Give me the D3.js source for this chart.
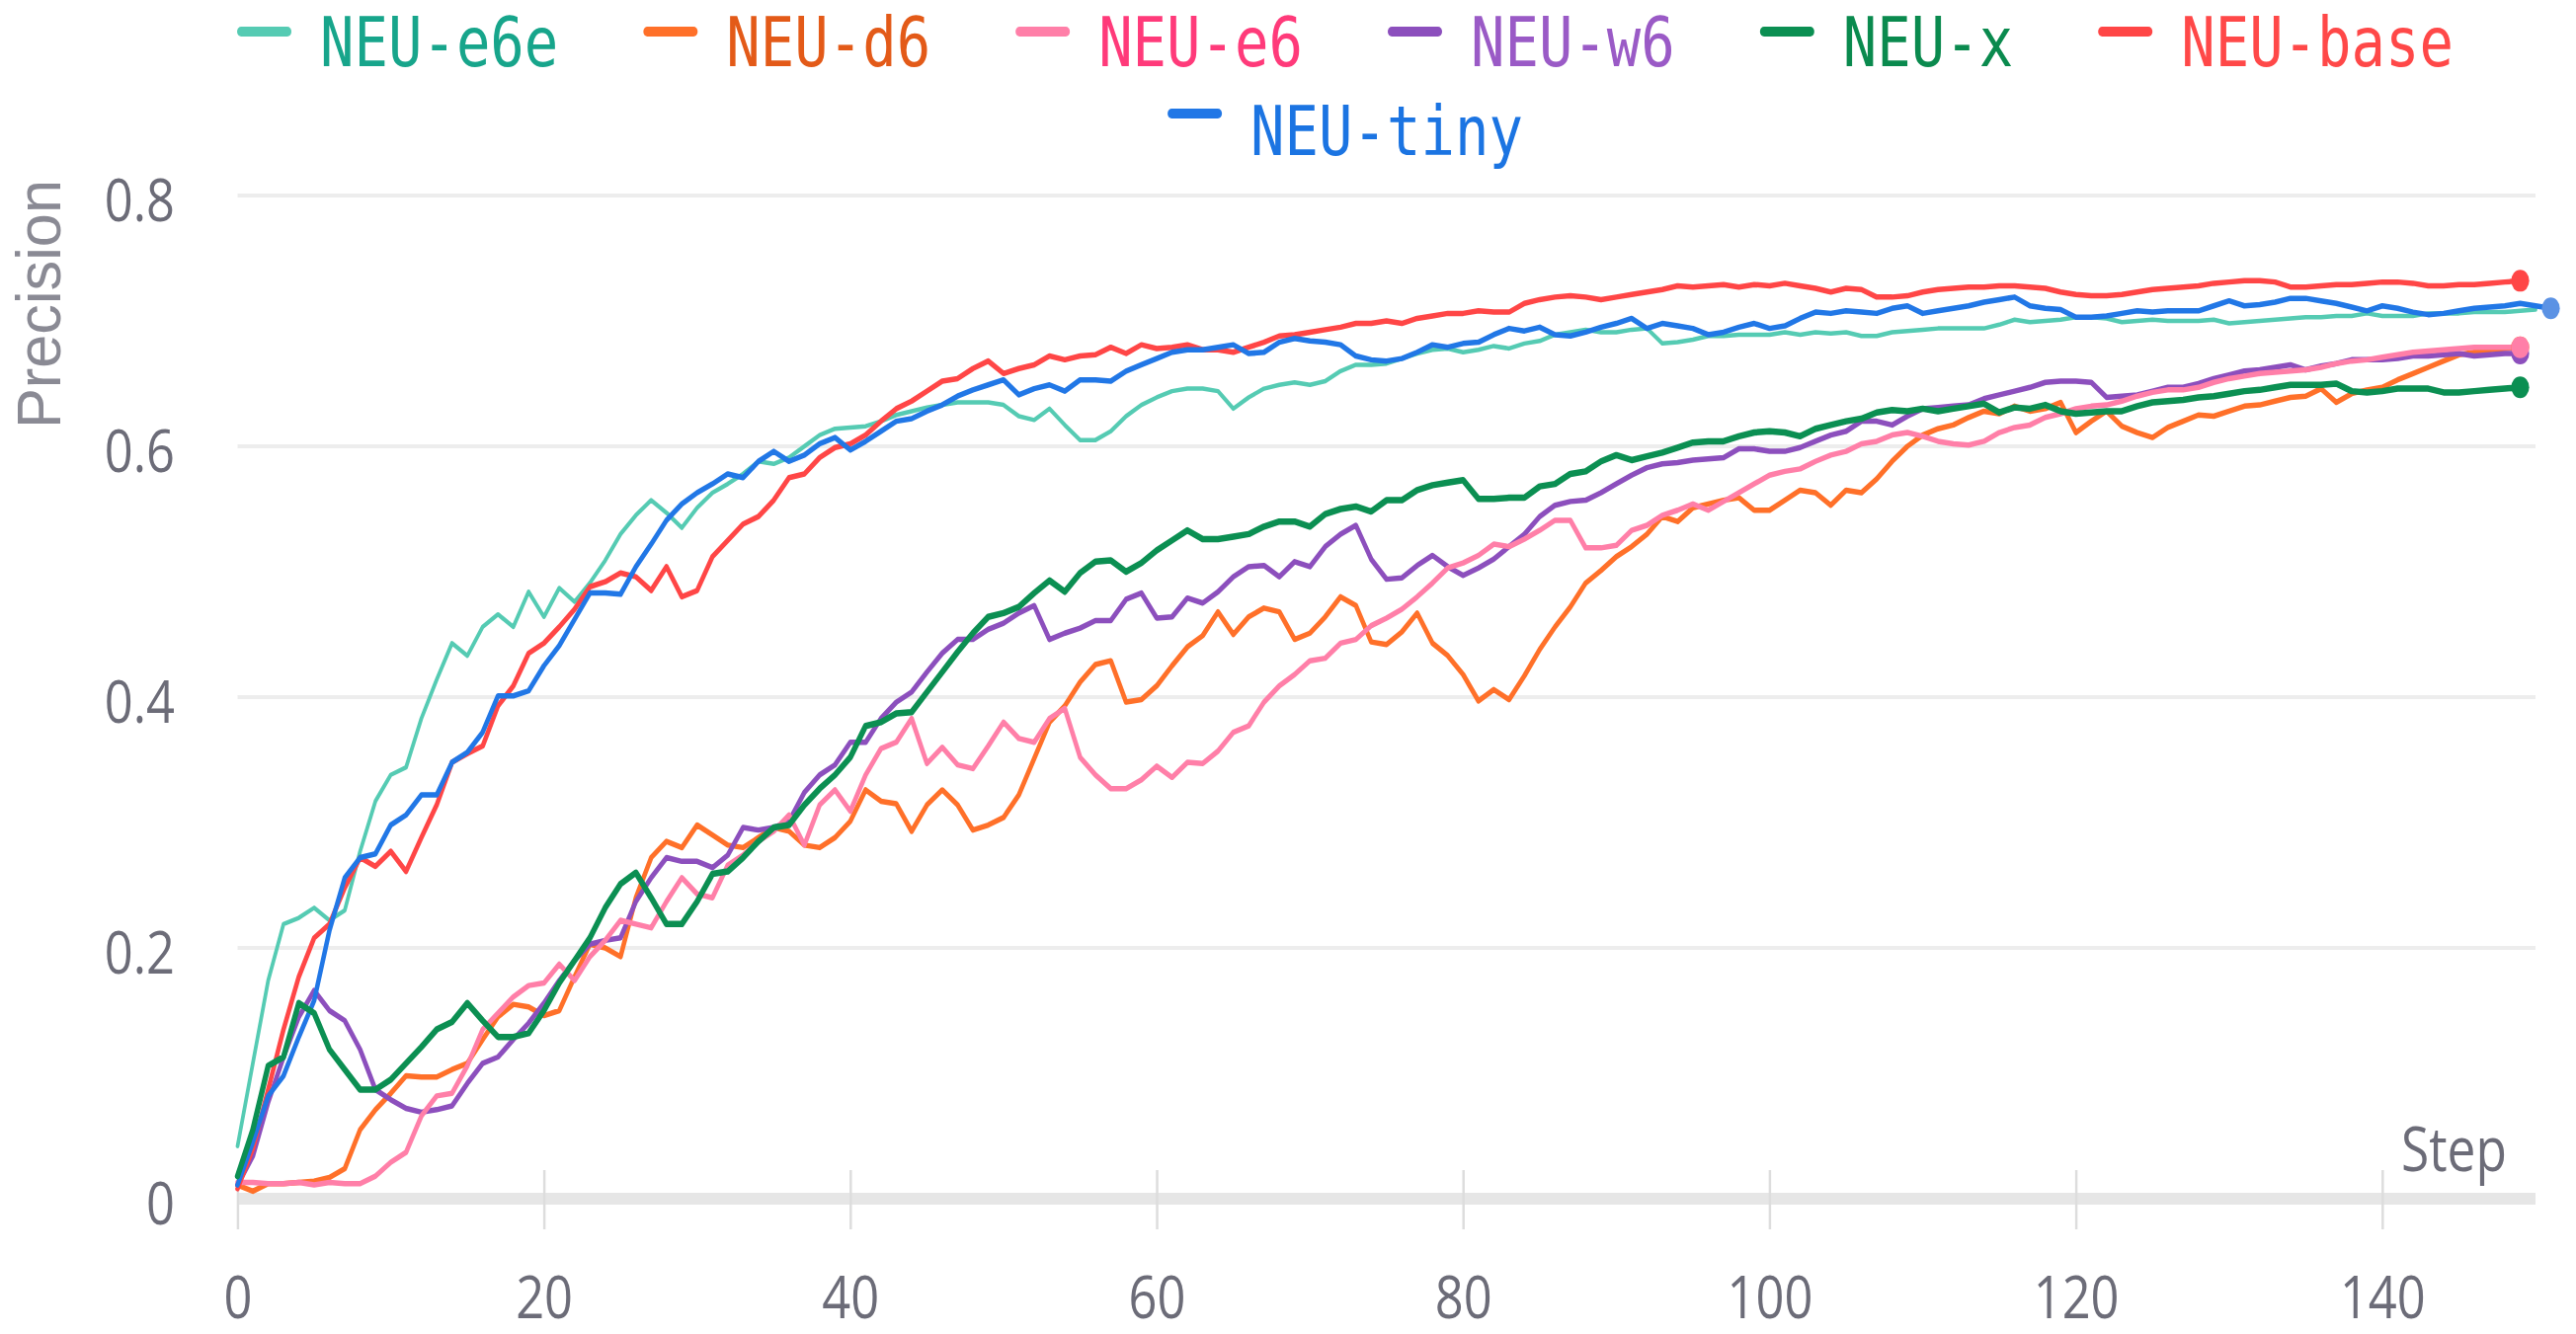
<!DOCTYPE html>
<html><head><meta charset="utf-8">
<script src="https://cdn.jsdelivr.net/npm/d3@7"></script>
<style>html,body{margin:0;padding:0;background:#fff;} svg{display:block;background:#fff;}</style>
</head><body>
<svg id="chart" width="2608" height="1351"></svg>
<script>
// ---------- data ----------
const seriesNames = ["NEU-e6e","NEU-d6","NEU-e6","NEU-w6","NEU-x","NEU-base","NEU-tiny"];
const lineColors  = ["#55cbb3","#ff7029","#ff7fa8","#8c4fbd","#0b8f52","#ff4646","#2177e6"];
const textColors  = ["#17a58b","#e35a18","#ff3a7a","#9a5ac6","#0a8a4e","#ff4848","#1b74e2"];
const xTicks = [0,20,40,60,80,100,120,140];
const yTicks = [0,0.2,0.4,0.6,0.8];
const xDomain = [0,150];
const yDomain = [0,0.8];

const e6eValues = [0.042,0.108,0.174,0.219,0.224,0.232,0.222,0.230,0.277,0.317,
0.338,0.344,0.383,0.414,0.443,0.433,0.456,0.466,0.456,0.484,
0.464,0.487,0.476,0.491,0.509,0.530,0.545,0.557,0.547,0.535,
0.551,0.563,0.570,0.578,0.588,0.586,0.591,0.600,0.609,0.614,
0.615,0.616,0.620,0.625,0.628,0.631,0.633,0.635,0.635,0.635,
0.633,0.624,0.621,0.630,0.617,0.605,0.605,0.612,0.624,0.633,
0.639,0.644,0.646,0.646,0.644,0.630,0.639,0.646,0.649,0.651,
0.649,0.652,0.660,0.665,0.665,0.666,0.670,0.674,0.677,0.678,
0.675,0.677,0.680,0.678,0.682,0.684,0.689,0.691,0.693,0.691,
0.691,0.693,0.694,0.682,0.683,0.685,0.688,0.688,0.689,0.689,
0.689,0.691,0.689,0.691,0.690,0.691,0.688,0.688,0.691,0.692,
0.693,0.694,0.694,0.694,0.694,0.697,0.701,0.699,0.700,0.701,
0.703,0.703,0.702,0.699,0.700,0.701,0.700,0.700,0.700,0.701,
0.698,0.699,0.700,0.701,0.702,0.703,0.703,0.704,0.704,0.706,
0.704,0.704,0.704,0.706,0.706,0.706,0.707,0.707,0.707,0.708,
0.709];

const d6Values = [0.011,0.006,0.012,0.012,0.013,0.014,0.017,0.024,0.055,0.071,
0.084,0.098,0.097,0.097,0.103,0.108,0.127,0.145,0.155,0.153,
0.146,0.150,0.177,0.203,0.200,0.193,0.240,0.272,0.285,0.280,
0.298,0.290,0.282,0.280,0.288,0.296,0.293,0.282,0.280,0.288,
0.301,0.326,0.317,0.315,0.293,0.314,0.326,0.314,0.294,0.298,
0.304,0.322,0.351,0.380,0.393,0.412,0.426,0.429,0.396,0.398,
0.409,0.425,0.440,0.449,0.468,0.450,0.464,0.471,0.468,0.446,
0.451,0.464,0.480,0.473,0.444,0.442,0.452,0.467,0.443,0.433,
0.418,0.397,0.406,0.398,0.417,0.438,0.456,0.472,0.491,0.501,
0.512,0.520,0.530,0.544,0.540,0.551,0.554,0.557,0.559,0.549,
0.549,0.557,0.565,0.563,0.553,0.565,0.563,0.574,0.588,0.600,
0.609,0.614,0.617,0.623,0.628,0.626,0.632,0.628,0.630,0.635,
0.611,0.620,0.628,0.616,0.611,0.607,0.615,0.620,0.625,0.624,
0.628,0.632,0.633,0.636,0.639,0.640,0.646,0.635,0.642,0.645,
0.647,0.653,0.658,0.663,0.668,0.673,0.675,0.677,0.678,0.679];

const e6Values = [0.013,0.013,0.012,0.012,0.013,0.011,0.013,0.012,0.012,0.018,
0.029,0.037,0.066,0.082,0.084,0.106,0.135,0.148,0.161,0.170,
0.172,0.187,0.174,0.193,0.206,0.222,0.219,0.216,0.237,0.256,
0.243,0.240,0.266,0.274,0.285,0.293,0.306,0.282,0.314,0.326,
0.309,0.338,0.359,0.364,0.383,0.347,0.360,0.346,0.343,0.361,
0.380,0.367,0.364,0.383,0.391,0.352,0.338,0.327,0.327,0.334,
0.345,0.336,0.348,0.347,0.357,0.372,0.377,0.396,0.409,0.418,
0.429,0.431,0.443,0.446,0.457,0.463,0.470,0.480,0.491,0.503,
0.507,0.513,0.522,0.520,0.526,0.533,0.541,0.541,0.519,0.519,
0.521,0.533,0.537,0.545,0.549,0.554,0.549,0.556,0.563,0.570,
0.577,0.580,0.582,0.588,0.593,0.596,0.602,0.604,0.609,0.611,
0.608,0.604,0.602,0.601,0.604,0.611,0.615,0.617,0.623,0.626,
0.630,0.632,0.633,0.636,0.640,0.643,0.645,0.645,0.647,0.651,
0.654,0.656,0.658,0.659,0.660,0.661,0.663,0.666,0.668,0.669,
0.671,0.673,0.675,0.676,0.677,0.678,0.679,0.679,0.679,0.679];

const w6Values = [0.011,0.034,0.077,0.113,0.145,0.166,0.150,0.142,0.119,0.087,
0.079,0.072,0.069,0.071,0.074,0.092,0.108,0.113,0.127,0.140,
0.156,0.174,0.190,0.203,0.206,0.208,0.237,0.256,0.272,0.269,
0.269,0.264,0.274,0.296,0.294,0.296,0.301,0.324,0.338,0.346,
0.364,0.364,0.383,0.396,0.404,0.420,0.435,0.446,0.446,0.454,
0.459,0.467,0.473,0.446,0.451,0.455,0.461,0.461,0.478,0.483,
0.463,0.464,0.479,0.475,0.484,0.496,0.504,0.505,0.496,0.508,
0.504,0.520,0.530,0.537,0.510,0.494,0.495,0.505,0.513,0.504,
0.497,0.503,0.510,0.520,0.530,0.544,0.553,0.556,0.557,0.563,
0.570,0.577,0.583,0.586,0.587,0.589,0.590,0.591,0.598,0.598,
0.596,0.596,0.599,0.604,0.609,0.612,0.620,0.620,0.617,0.624,
0.630,0.631,0.632,0.633,0.638,0.641,0.644,0.647,0.651,0.652,
0.652,0.651,0.639,0.640,0.641,0.644,0.647,0.647,0.650,0.654,
0.657,0.660,0.661,0.663,0.665,0.661,0.664,0.666,0.669,0.669,
0.669,0.670,0.672,0.672,0.673,0.674,0.672,0.673,0.674,0.674];

const xValues = [0.018,0.055,0.106,0.113,0.156,0.148,0.119,0.103,0.087,0.087,
0.095,0.108,0.121,0.135,0.141,0.156,0.142,0.129,0.129,0.132,
0.150,0.172,0.190,0.208,0.232,0.251,0.260,0.240,0.219,0.219,
0.237,0.259,0.261,0.272,0.285,0.296,0.298,0.314,0.327,0.338,
0.352,0.377,0.380,0.387,0.388,0.404,0.420,0.436,0.451,0.464,
0.467,0.472,0.483,0.493,0.484,0.499,0.508,0.509,0.500,0.507,
0.517,0.525,0.533,0.526,0.526,0.528,0.530,0.536,0.540,0.540,
0.536,0.546,0.550,0.552,0.548,0.557,0.557,0.565,0.569,0.571,
0.573,0.558,0.558,0.559,0.559,0.568,0.570,0.578,0.580,0.588,
0.593,0.589,0.592,0.595,0.599,0.603,0.604,0.604,0.608,0.611,
0.612,0.611,0.608,0.614,0.617,0.620,0.622,0.627,0.629,0.628,
0.630,0.628,0.630,0.632,0.634,0.627,0.631,0.630,0.633,0.628,
0.626,0.627,0.628,0.628,0.632,0.635,0.636,0.637,0.639,0.640,
0.642,0.644,0.645,0.647,0.649,0.649,0.649,0.650,0.644,0.643,
0.644,0.646,0.646,0.646,0.643,0.643,0.644,0.645,0.646,0.647];

const baseValues = [0.008,0.040,0.087,0.135,0.177,0.208,0.219,0.248,0.272,0.265,
0.277,0.261,0.288,0.314,0.348,0.355,0.361,0.393,0.409,0.435,
0.443,0.456,0.470,0.488,0.492,0.499,0.496,0.485,0.504,0.480,
0.485,0.512,0.525,0.538,0.544,0.557,0.575,0.578,0.591,0.599,
0.602,0.609,0.620,0.630,0.636,0.644,0.652,0.654,0.662,0.668,
0.658,0.662,0.665,0.672,0.669,0.672,0.673,0.679,0.674,0.681,
0.678,0.679,0.681,0.677,0.677,0.675,0.679,0.683,0.688,0.689,
0.691,0.693,0.695,0.698,0.698,0.700,0.698,0.702,0.704,0.706,
0.706,0.708,0.707,0.707,0.714,0.717,0.719,0.720,0.719,0.717,
0.719,0.721,0.723,0.725,0.728,0.727,0.728,0.729,0.727,0.729,
0.728,0.730,0.728,0.726,0.723,0.726,0.725,0.719,0.719,0.720,
0.723,0.725,0.726,0.727,0.727,0.728,0.728,0.727,0.726,0.723,
0.721,0.720,0.720,0.721,0.723,0.725,0.726,0.727,0.728,0.730,
0.731,0.732,0.732,0.731,0.727,0.727,0.728,0.729,0.729,0.730,
0.731,0.731,0.730,0.728,0.728,0.729,0.729,0.730,0.731,0.732];

const tinyValues = [0.011,0.045,0.082,0.098,0.129,0.158,0.214,0.256,0.272,0.275,
0.298,0.306,0.322,0.322,0.348,0.356,0.372,0.401,0.401,0.405,
0.425,0.441,0.462,0.483,0.483,0.482,0.504,0.522,0.541,0.554,
0.563,0.570,0.578,0.575,0.588,0.596,0.588,0.593,0.602,0.607,
0.597,0.604,0.612,0.620,0.622,0.628,0.633,0.640,0.645,0.649,
0.653,0.641,0.646,0.649,0.644,0.653,0.653,0.652,0.660,0.665,
0.670,0.675,0.677,0.677,0.679,0.681,0.674,0.675,0.683,0.686,
0.684,0.683,0.681,0.672,0.669,0.668,0.670,0.675,0.681,0.679,
0.682,0.683,0.689,0.694,0.692,0.695,0.689,0.688,0.691,0.695,
0.698,0.702,0.694,0.698,0.696,0.694,0.689,0.691,0.695,0.698,
0.694,0.696,0.702,0.707,0.706,0.708,0.707,0.706,0.710,0.712,
0.706,0.708,0.710,0.712,0.715,0.717,0.719,0.712,0.710,0.709,
0.703,0.703,0.704,0.706,0.708,0.707,0.708,0.708,0.708,0.712,
0.716,0.712,0.713,0.715,0.718,0.718,0.716,0.714,0.711,0.708,
0.712,0.710,0.707,0.705,0.706,0.708,0.710,0.711,0.712,0.714,
0.712,0.710];

const seriesValues = [e6eValues,d6Values,e6Values,w6Values,xValues,baseValues,tinyValues];

// ---------- layout ----------
const K = 0.83;                       // horizontal compression of the whole picture
const plot = {left:240.5, right:2567, top:198, bottom:1214};
const tickFont = "'Open Sans', 'Noto Sans', sans-serif";
const monoFont = "'DejaVu Sans Mono', monospace";
const axisGray = "#6c6c78";

const svg = d3.select("#chart");
const g = svg.append("g").attr("transform", `scale(${K},1)`);

const x = d3.scaleLinear().domain(xDomain).range([plot.left / K, plot.right / K]);
const y = d3.scaleLinear().domain(yDomain).range([plot.bottom, plot.top]);

// grid lines
g.append("g").selectAll("line").data(yTicks.filter(t => t > 0)).join("line")
  .attr("x1", x(xDomain[0])).attr("x2", x(xDomain[1]))
  .attr("y1", d => y(d)).attr("y2", d => y(d))
  .attr("stroke", "#ededed").attr("stroke-width", 4);

// baseline
g.append("line")
  .attr("x1", x(xDomain[0])).attr("x2", x(xDomain[1]))
  .attr("y1", y(0)).attr("y2", y(0))
  .attr("stroke", "#e6e6e6").attr("stroke-width", 12);

// x axis
const xAxis = g.append("g").attr("transform", `translate(0,${y(0)})`)
  .call(d3.axisBottom(x).tickValues(xTicks).tickSize(31).tickFormat(d3.format("d")));
xAxis.select(".domain").remove();
xAxis.attr("font-size", 61).attr("font-family", tickFont).style("color", axisGray);
xAxis.selectAll(".tick line").attr("y1", -29).attr("y2", 31)
  .attr("stroke", "#dddddd").attr("stroke-width", 3);
xAxis.selectAll(".tick text").attr("y", 121).attr("dy", null).attr("fill", axisGray);

// y axis
const yAxis = g.append("g").attr("transform", `translate(${x(xDomain[0])},0)`)
  .call(d3.axisLeft(y).tickValues(yTicks).tickSize(0)
    .tickFormat(d => d === 0 ? "0" : d3.format(".1f")(d)));
yAxis.select(".domain").remove();
yAxis.attr("font-size", 61).attr("font-family", tickFont).style("color", axisGray);
yAxis.selectAll(".tick text").attr("x", -(plot.left - 177) / K).attr("dy", "0.42em").attr("fill", axisGray);

// axis titles
g.append("text")
  .attr("x", x(xDomain[1]) - 29 / K).attr("y", 1186)
  .attr("text-anchor", "end").attr("font-family", tickFont).attr("font-size", 62)
  .attr("fill", axisGray).text("Step");

svg.append("text")
  .attr("transform", `translate(61,${(182 + 434) / 2}) rotate(-90)`)
  .attr("text-anchor", "middle")
  .attr("font-family", "'Liberation Sans', Arial, sans-serif").attr("font-size", 63)
  .attr("textLength", 252).attr("lengthAdjust", "spacingAndGlyphs")
  .attr("fill", "#8a8a94").text("Precision");

// lines
const lineGen = d3.line().x((d, i) => x(i)).y(d => y(d));
const drawOrder = [0, 1, 3, 2, 5, 6, 4];
const widths = [4.5, 5.5, 5.5, 5.5, 6.5, 5.5, 5.5];
const linesG = g.append("g");
drawOrder.forEach(si => {
  linesG.append("path")
    .attr("d", lineGen(seriesValues[si]))
    .attr("fill", "none")
    .attr("stroke", lineColors[si])
    .attr("stroke-width", widths[si])
    .attr("stroke-linejoin", "round")
    .attr("stroke-linecap", "round");
});
// end dots
const dotOrder = [1, 3, 2, 5, 6, 4];
const dotColors = {6: "#5b92e4"};
dotOrder.forEach(si => {
  const vals = seriesValues[si];
  const last = vals.length - 1;
  linesG.append("circle")
    .attr("cx", x(last)).attr("cy", y(vals[last])).attr("r", 11)
    .attr("fill", dotColors[si] || lineColors[si]);
});

// legend
const rows = [[0,1,2,3,4,5],[6]];
const rowBaselines = [67, 157];
const swatchCenters = [32, 115];
const legendCenter = 1362 / K;
const swLen = 55 / K, swGap = 29 / K, itemGap = 86 / K;
const legendG = g.append("g");
rows.forEach((row, ri) => {
  const items = row.map(si => {
    const t = legendG.append("text")
      .attr("font-family", monoFont).attr("font-size", 69)
      .attr("fill", textColors[si]).attr("y", rowBaselines[ri])
      .text(seriesNames[si]);
    return {si, t, w: t.node().getComputedTextLength()};
  });
  const total = d3.sum(items, d => swLen + swGap + d.w) + itemGap * (items.length - 1);
  let cx = legendCenter - total / 2;
  items.forEach(it => {
    legendG.append("line")
      .attr("x1", cx + 5).attr("x2", cx + swLen - 5)
      .attr("y1", swatchCenters[ri]).attr("y2", swatchCenters[ri])
      .attr("stroke", lineColors[it.si]).attr("stroke-width", 10)
      .attr("stroke-linecap", "round");
    it.t.attr("x", cx + swLen + swGap);
    cx += swLen + swGap + it.w + itemGap;
  });
});
</script>
</body></html>
